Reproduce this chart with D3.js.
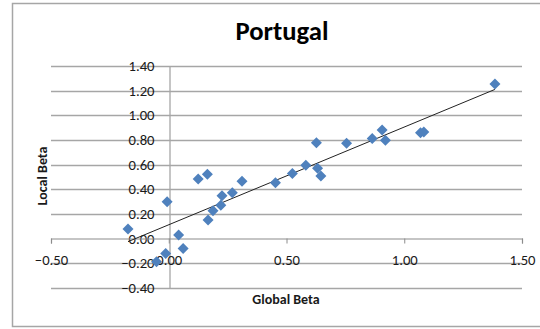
<!DOCTYPE html>
<html><head><meta charset="utf-8">
<script src="https://cdn.jsdelivr.net/npm/d3@7"></script>
<style>body{margin:0;background:#fff;}svg{display:block;}</style>
</head><body>
<svg id="c" width="540" height="329"></svg>
<script>
const title = "Portugal";
const xTitle = "Global Beta";
const yTitle = "Local Beta";
const xTicks = [-0.5, 0, 0.5, 1.0, 1.5];
const yTicks = [-0.4, -0.2, 0, 0.2, 0.4, 0.6, 0.8, 1.0, 1.2, 1.4];
const globalBeta = [-0.173, -0.007, 0.042, 0.061, -0.013, -0.052, 0.125, 0.164, 0.167, 0.188, 0.226, 0.221,
  0.27, 0.311, 0.453, 0.525, 0.582, 0.627, 0.632, 0.646, 0.755, 0.864, 0.906, 0.92, 1.069, 1.083, 1.385];
const localBeta = [0.076, 0.297, 0.027, -0.081, -0.122, -0.19, 0.482, 0.522, 0.149, 0.224, 0.346, 0.27,
  0.37, 0.465, 0.452, 0.528, 0.595, 0.777, 0.569, 0.506, 0.772, 0.812, 0.88, 0.798, 0.858, 0.864, 1.253];

const svg = d3.select("#c");
const x = d3.scaleLinear().domain([-0.5, 1.5]).range([51, 522]);
const y = d3.scaleLinear().domain([-0.4, 1.4]).range([287.7, 66]);
const font = "Calibri, Carlito, 'Liberation Sans', Arial, sans-serif";

// chart border
svg.append("rect").attr("x", 12.5).attr("y", 3.5).attr("width", 540).attr("height", 323)
  .attr("fill", "none").attr("stroke", "#a6a6a6").attr("stroke-width", 1.5);

// gridlines
svg.append("g").selectAll("line").data(yTicks.filter(v => v !== 0)).join("line")
  .attr("x1", x(-0.5)).attr("x2", x(1.5))
  .attr("y1", d => Math.round(y(d)) + 0.5).attr("y2", d => Math.round(y(d)) + 0.5)
  .attr("stroke", "#a6a6a6").attr("stroke-width", 1.3);

// y axis at x=0
const yAxis = d3.axisLeft(y).tickValues(yTicks).tickSize(0).tickPadding(15).tickFormat(d3.format(".2f"));
const gy = svg.append("g").attr("transform", `translate(${Math.round(x(0)) + 0.5},0)`).call(yAxis);
gy.select(".domain").attr("stroke", "#a6a6a6").attr("stroke-width", 1.3);
gy.selectAll("text").attr("font-family", font).attr("font-size", 14.67).attr("fill", "#1a1a1a");

// x axis at y=0
const xAxis = d3.axisBottom(x).tickValues(xTicks).tickSize(5).tickSizeOuter(5).tickPadding(11).tickFormat(d3.format(".2f"));
const gx = svg.append("g").attr("transform", `translate(0,${Math.round(y(0)) + 0.5})`).call(xAxis);
gx.select(".domain").attr("stroke", "#8c8c8c").attr("stroke-width", 1.2);
gx.selectAll(".tick line").attr("stroke", "#8c8c8c");
gx.selectAll("text").attr("font-family", font).attr("font-size", 14.67).attr("fill", "#1a1a1a");

// trendline (least squares)
const n = globalBeta.length;
const mx = d3.mean(globalBeta), my = d3.mean(localBeta);
let sxy = 0, sxx = 0;
for (let i = 0; i < n; i++) { sxy += (globalBeta[i] - mx) * (localBeta[i] - my); sxx += (globalBeta[i] - mx) ** 2; }
const slope = sxy / sxx, intercept = my - slope * mx;
const x0 = d3.min(globalBeta), x1 = d3.max(globalBeta);
svg.append("line").attr("x1", x(x0)).attr("y1", y(intercept + slope * x0))
  .attr("x2", x(x1)).attr("y2", y(intercept + slope * x1))
  .attr("stroke", "#222").attr("stroke-width", 1);

// markers
const pts = globalBeta.map((g, i) => [g, localBeta[i]]);
svg.append("g").selectAll("path").data(pts).join("path")
  .attr("transform", d => `translate(${x(d[0])},${y(d[1])})`)
  .attr("d", "M0,-5.5L5.5,0L0,5.5L-5.5,0Z")
  .attr("fill", "#4f81bd");

// titles
svg.append("text").attr("x", 282).attr("y", 40).attr("text-anchor", "middle")
  .attr("font-family", font).attr("font-weight", "bold").attr("font-size", 26.67).attr("fill", "#000").text(title);
svg.append("text").attr("x", 286).attr("y", 304).attr("text-anchor", "middle")
  .attr("font-family", font).attr("font-weight", "bold").attr("font-size", 14).attr("fill", "#1a1a1a").text(xTitle);
svg.append("text").attr("transform", "translate(47,176) rotate(-90)").attr("text-anchor", "middle")
  .attr("font-family", font).attr("font-weight", "bold").attr("font-size", 14).attr("fill", "#1a1a1a").text(yTitle);
</script>
</body></html>
